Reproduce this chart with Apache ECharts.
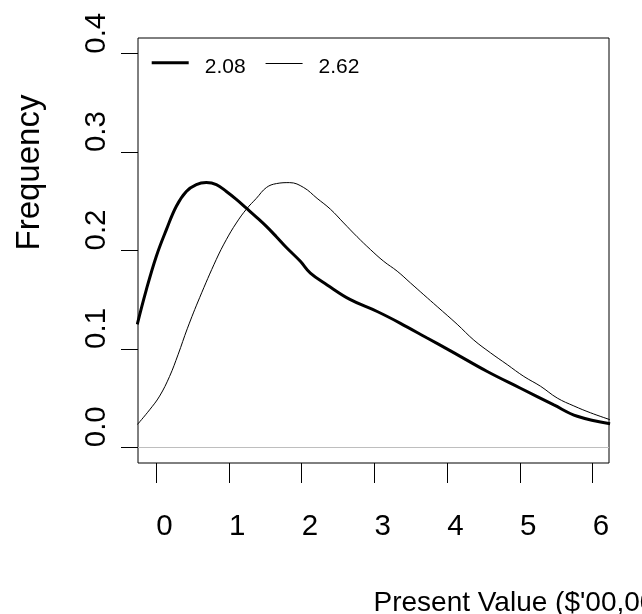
<!DOCTYPE html>
<html>
<head>
<meta charset="utf-8">
<script src="https://cdn.jsdelivr.net/npm/echarts@6/dist/echarts.min.js"></script>
<style>
html,body{margin:0;padding:0;background:#fff;}
#chart{width:642px;height:614px;}
</style>
</head>
<body>
<div id="chart"></div>
<script>
// Series 1 (thick line, "2.08")
const xThick = [-0.26, -0.136, 0.001, 0.139, 0.277, 0.414, 0.552, 0.689, 0.827, 0.965, 1.102, 1.240, 1.377, 1.515, 1.652, 1.790, 1.982, 2.120, 2.350, 2.670, 3.038, 3.358, 3.725, 4.046, 4.551, 5.009, 5.467, 5.789, 6.24];
const yThick = [0.125, 0.160, 0.194, 0.221, 0.245, 0.260, 0.267, 0.269, 0.267, 0.260, 0.252, 0.243, 0.234, 0.2245, 0.214, 0.203, 0.189, 0.177, 0.165, 0.150, 0.138, 0.126, 0.111, 0.098, 0.077, 0.060, 0.043, 0.0315, 0.024];
// Series 2 (thin line, "2.62")
const xThin = [-0.26, -0.091, 0.047, 0.184, 0.300, 0.430, 0.597, 0.827, 0.964, 1.102, 1.240, 1.377, 1.515, 1.652, 1.835, 2.028, 2.212, 2.395, 2.578, 2.762, 2.945, 3.128, 3.313, 3.496, 3.679, 3.863, 4.138, 4.366, 4.596, 4.826, 5.054, 5.284, 5.514, 5.742, 5.972, 6.24];
const yThin = [0.023, 0.038, 0.052, 0.072, 0.094, 0.121, 0.152, 0.191, 0.211, 0.228, 0.242, 0.253, 0.264, 0.268, 0.269, 0.264, 0.253, 0.242, 0.228, 0.214, 0.201, 0.189, 0.179, 0.167, 0.155, 0.143, 0.125, 0.109, 0.096, 0.084, 0.072, 0.062, 0.050, 0.042, 0.035, 0.028];
const seriesNames = ['2.08', '2.62'];
const xTicks = [0, 1, 2, 3, 4, 5, 6];
const yTicks = [0, 0.1, 0.2, 0.3, 0.4];
const xTitle = "Present Value ($'00,000)";
const yTitle = 'Frequency';

const zip = (xs, ys) => xs.map((x, i) => [x, ys[i]]);
const FONT = '"Liberation Sans", Arial, Helvetica, sans-serif';

const chart = echarts.init(document.getElementById('chart'), null, {renderer: 'canvas'});
chart.setOption({
  animation: false,
  backgroundColor: '#fff',
  textStyle: {fontFamily: FONT},
  grid: {left: 138, top: 38, width: 471, height: 425, containLabel: false, outerBoundsMode: 'none',
         show: true, borderColor: '#000', borderWidth: 1, backgroundColor: 'transparent'},
  legend: {
    left: 151.7, top: 57, padding: 0, orient: 'horizontal',
    itemWidth: 37, itemHeight: 14, itemGap: 20,
    itemStyle: {borderWidth: 0},
    textStyle: {fontFamily: FONT, fontSize: 21, color: '#000', padding: [0, 0, 0, 11]},
    data: [
      {name: seriesNames[0], icon: 'path://M0,0H37V3H0ZM0,12.4'},
      {name: seriesNames[1], icon: 'path://M0,0H37V1H0ZM0,9'}
    ]
  },
  xAxis: {
    type: 'value', min: -0.25, max: 6.225,
    name: xTitle, nameLocation: 'middle', nameGap: 140,
    nameTextStyle: {fontFamily: FONT, fontSize: 28, color: '#000', align: 'left', verticalAlign: 'middle'},
    axisLine: {show: false, onZero: false},
    axisTick: {show: true, inside: false, customValues: xTicks, length: 20, lineStyle: {color: '#000', width: 1}},
    axisLabel: {customValues: xTicks, inside: false, align: 'left', verticalAlign: 'middle', margin: 63.5, fontFamily: FONT, fontSize: 29.5, color: '#000'},
    splitLine: {show: false}
  },
  yAxis: {
    type: 'value', min: -0.016, max: 0.416,
    name: yTitle, nameLocation: 'middle', nameGap: 108,
    nameTextStyle: {fontFamily: FONT, fontSize: 33, color: '#000', align: 'left', verticalAlign: 'middle'},
    axisLine: {show: false, onZero: false},
    axisTick: {show: true, inside: false, customValues: yTicks, length: 17, lineStyle: {color: '#000', width: 1}},
    axisLabel: {customValues: yTicks, inside: false, rotate: 90, align: 'left', verticalAlign: 'middle', margin: 41, fontFamily: FONT, fontSize: 29.5, color: '#000', formatter: v => v.toFixed(1)},
    splitLine: {show: false}
  },
  series: [
    {
      name: seriesNames[0], type: 'line', data: zip(xThick, yThick),
      symbol: 'none', smooth: 0.4, clip: true,
      itemStyle: {color: '#000'}, lineStyle: {color: '#000', width: 3},
      markLine: {silent: true, symbol: 'none', label: {show: false},
        lineStyle: {color: '#bebebe', width: 1, type: 'solid'}, data: [{yAxis: 0}]},
      z: 3
    },
    {
      name: seriesNames[1], type: 'line', data: zip(xThin, yThin),
      symbol: 'none', smooth: 0.4, clip: true,
      itemStyle: {color: '#000'}, lineStyle: {color: '#000', width: 1},
      z: 2
    }
  ]
});
</script>
</body>
</html>
